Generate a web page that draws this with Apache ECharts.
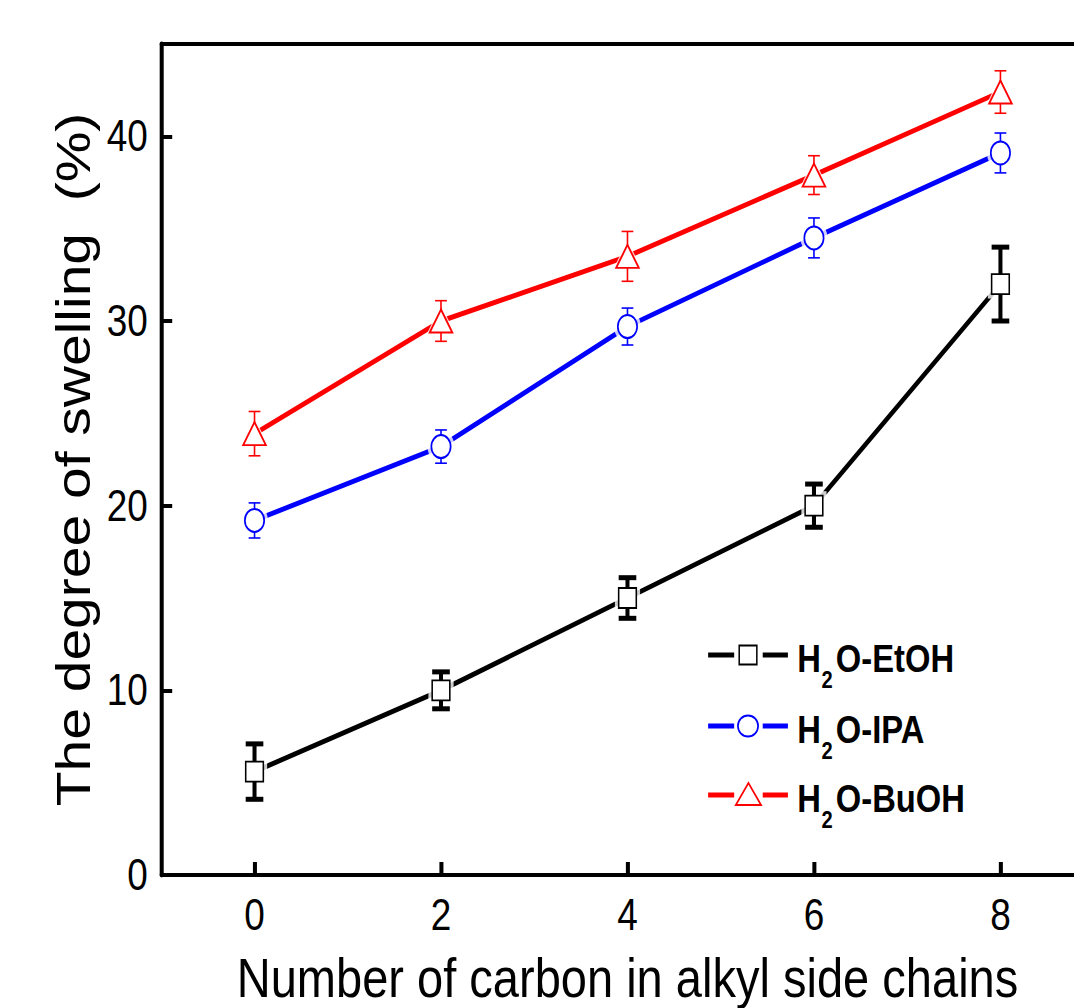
<!DOCTYPE html>
<html>
<head>
<meta charset="utf-8">
<script src="https://cdn.jsdelivr.net/npm/echarts@6/dist/echarts.min.js"></script>
<style>
html,body{margin:0;padding:0;background:#fff;overflow:hidden;}
#wrap{width:1074px;height:1008px;overflow:hidden;position:relative;background:#fff;}
#chart{width:1330px;height:1008px;transform:scaleX(0.84);transform-origin:0 0;position:absolute;left:0;top:0;}
</style>
</head>
<body>
<div id="wrap"><div id="chart"></div></div>
<script>
// ---- data ----
const carbons = [0, 2, 4, 6, 8];
const xTicks = [0, 2, 4, 6, 8];
const yTicks = [0, 10, 20, 30, 40];
const etoh = [5.6, 10.0, 15.0, 20.0, 32.0];
const etohErr = [1.5, 1.0, 1.1, 1.17, 2.0];
const ipa = [19.2, 23.2, 29.7, 34.5, 39.1];
const ipaErr = [0.95, 0.9, 1.0, 1.08, 1.08];
const buoh = [23.9, 30.0, 33.5, 37.9, 42.4];
const buohErr = [1.2, 1.1, 1.35, 1.05, 1.15];
const seriesNames = ['H2O-EtOH', 'H2O-IPA', 'H2O-BuOH'];

const SANS = "'Liberation Sans', Arial, sans-serif";
const ELLIPSE = 'path://M0,-1 A1,1 0 1,1 0,1 A1,1 0 1,1 0,-1 Z';

const specs = [
  {name: seriesNames[0], vals: etoh, errs: etohErr, color: '#000000', symbol: 'rect', size: [21, 20], border: 1.8, halo: [30, 29], barW: 4.8, capW: 21, capT: 5},
  {name: seriesNames[1], vals: ipa, errs: ipaErr, color: '#0000ff', symbol: ELLIPSE, size: [23, 23], border: 2, halo: [32, 32], barW: 1.9, capW: 14, capT: 1.6},
  {name: seriesNames[2], vals: buoh, errs: buohErr, color: '#ff0000', symbol: 'triangle', size: [27, 23], border: 2, halo: [38, 33], barW: 1.9, capW: 14, capT: 1.6}
];

const series = [];
specs.forEach(function (s) {
  const pts = carbons.map(function (c, i) { return [c, s.vals[i]]; });
  const errPts = carbons.map(function (c, i) { return [c, s.vals[i], s.errs[i]]; });
  series.push({
    type: 'line', name: s.name, data: pts, symbol: 'none', z: 2,
    lineStyle: {color: s.color, width: 5}, animation: false, silent: true
  });
  series.push({
    type: 'scatter', data: pts, symbol: s.symbol, symbolSize: s.halo, z: 3,
    itemStyle: {color: '#ffffff'}, animation: false, silent: true
  });
  series.push({
    type: 'custom', data: errPts, z: 4, animation: false, silent: true,
    renderItem: function (params, api) {
      const x = api.value(0), y = api.value(1), e = api.value(2);
      const t = api.coord([x, y + e]);
      const b = api.coord([x, y - e]);
      const st = {stroke: s.color, lineWidth: s.barW};
      const cs = {stroke: s.color, lineWidth: s.capT};
      return {type: 'group', children: [
        {type: 'line', shape: {x1: t[0], y1: t[1], x2: b[0], y2: b[1]}, style: st},
        {type: 'line', shape: {x1: t[0] - s.capW / 2, y1: t[1], x2: t[0] + s.capW / 2, y2: t[1]}, style: cs},
        {type: 'line', shape: {x1: b[0] - s.capW / 2, y1: b[1], x2: b[0] + s.capW / 2, y2: b[1]}, style: cs}
      ]};
    }
  });
  series.push({
    type: 'scatter', data: pts, symbol: s.symbol, symbolSize: s.size, z: 5,
    itemStyle: {color: '#ffffff', borderColor: s.color, borderWidth: s.border, opacity: 1},
    animation: false, silent: true
  });
});

// legend drawn as graphic elements (coordinates in the unscaled chart space)
const legendRows = [655, 726, 795];
const legendGraphics = [];
specs.forEach(function (s, i) {
  const y = legendRows[i];
  legendGraphics.push({type: 'line', shape: {x1: 843, y1: y, x2: 874, y2: y}, style: {stroke: s.color, lineWidth: 5}});
  legendGraphics.push({type: 'line', shape: {x1: 908, y1: y, x2: 938, y2: y}, style: {stroke: s.color, lineWidth: 5}});
  if (i === 0) {
    legendGraphics.push({type: 'rect', shape: {x: 880, y: y - 9.5, width: 21, height: 19}, style: {fill: '#fff', stroke: s.color, lineWidth: 1.8}});
  } else if (i === 1) {
    legendGraphics.push({type: 'ellipse', shape: {cx: 890.5, cy: y, rx: 12, ry: 10.5}, style: {fill: '#fff', stroke: s.color, lineWidth: 2}});
  } else {
    legendGraphics.push({type: 'polygon', shape: {points: [[891, y - 12], [906, y + 10], [876, y + 10]]}, style: {fill: '#fff', stroke: s.color, lineWidth: 2}});
  }
  const label = s.name;
  legendGraphics.push({type: 'text', x: 949, y: y + 23, style: {text: label.slice(0, 1), font: 'bold 39px ' + SANS, fill: '#000', verticalAlign: 'bottom'}});
  legendGraphics.push({type: 'text', x: 978, y: y + 37, style: {text: label.slice(1, 2), font: 'bold 24px ' + SANS, fill: '#000', verticalAlign: 'bottom'}});
  legendGraphics.push({type: 'text', x: 995, y: y + 23, style: {text: label.slice(2), font: 'bold 39px ' + SANS, fill: '#000', verticalAlign: 'bottom'}});
});

const chart = echarts.init(document.getElementById('chart'), null, {renderer: 'svg'});
chart.setOption({
  backgroundColor: '#ffffff',
  animation: false,
  grid: {left: 192, top: 44, bottom: 133, right: 28, containLabel: false, outerBoundsMode: 'none'},
  xAxis: [{
    type: 'value', min: -1, max: 9,
    name: 'Number of carbon in alkyl side chains', nameLocation: 'middle', nameGap: 80,
    nameTextStyle: {fontFamily: SANS, fontSize: 56, lineHeight: 44, color: '#000'},
    axisLine: {show: true, onZero: false, lineStyle: {color: '#000', width: 4}},
    axisTick: {show: true, inside: true, length: 13, customValues: xTicks, lineStyle: {color: '#000', width: 4.8}},
    axisLabel: {show: true, customValues: xTicks, margin: 18, fontFamily: SANS, fontSize: 44, color: '#000'},
    splitLine: {show: false}
  }, {
    type: 'value', min: -1, max: 9, position: 'top',
    axisLine: {show: true, onZero: false, lineStyle: {color: '#000', width: 4}},
    axisTick: {show: false}, axisLabel: {show: false}, splitLine: {show: false}
  }],
  yAxis: [{
    type: 'value', min: 0, max: 45,
    name: 'The degree of swelling  (%)', nameLocation: 'middle', nameGap: 76, nameRotate: 90,
    nameTextStyle: {fontFamily: SANS, fontSize: 57, color: '#000'},
    axisLine: {show: true, onZero: false, lineStyle: {color: '#000', width: 4.8}},
    axisTick: {show: true, inside: true, length: 13, customValues: yTicks, lineStyle: {color: '#000', width: 4}},
    axisLabel: {show: true, customValues: yTicks, margin: 16, fontFamily: SANS, fontSize: 44, color: '#000'},
    splitLine: {show: false}
  }],
  series: series,
  graphic: legendGraphics
});
</script>
</body>
</html>
